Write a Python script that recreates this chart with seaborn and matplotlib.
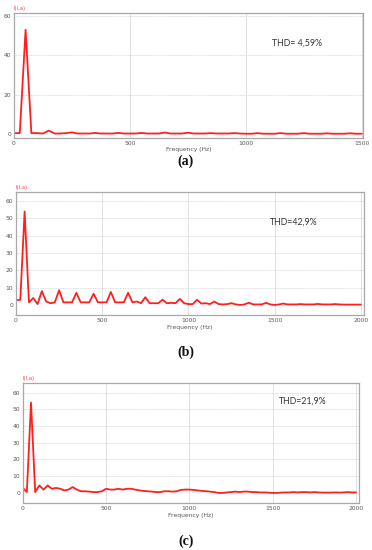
import numpy as np
import pandas as pd
import matplotlib
matplotlib.use("Agg")
import matplotlib.pyplot as plt
import seaborn as sns

# harmonic spectra, sampled every 25 Hz
freq_a = np.arange(0, 1525, 25)
amp_a = [0.5, 0.5, 53, 0.5, 0.5, 0.3, 1.8, 0.3,
         0.3, 0.5, 0.9, 0.3, 0.3, 0.3, 0.6, 0.3,
         0.3, 0.3, 0.6, 0.3, 0.3, 0.3, 0.6, 0.3,
         0.3, 0.3, 0.8, 0.3, 0.3, 0.3, 0.7, 0.3,
         0.3, 0.3, 0.5, 0.3, 0.3, 0.3, 0.5, 0.3,
         0.2, 0.2, 0.5, 0.2, 0.2, 0.2, 0.5, 0.2,
         0.2, 0.2, 0.5, 0.2, 0.2, 0.2, 0.4, 0.2,
         0.2, 0.2, 0.4, 0.2, 0.2]

freq_bc = np.arange(0, 2025, 25)
amp_b = [2.8, 3.0, 54, 1.5, 4.0, 0.5, 8.0, 2.0,
         1.0, 1.5, 8.5, 1.5, 1.5, 1.5, 7.0, 1.5,
         1.5, 1.5, 6.5, 1.5, 1.5, 1.5, 7.5, 1.5,
         1.5, 1.5, 7.0, 1.5, 2.0, 1.0, 4.5, 1.0,
         1.0, 1.0, 3.0, 1.0, 1.2, 1.0, 3.5, 1.0,
         0.5, 0.5, 3.0, 0.8, 1.0, 0.5, 2.0, 0.5,
         0.3, 0.5, 1.0, 0.3, 0.0, 0.3, 1.3, 0.3,
         0.3, 0.3, 1.2, 0.3, 0.0, 0.3, 0.8, 0.3,
         0.3, 0.3, 0.5, 0.3, 0.3, 0.3, 0.6, 0.3,
         0.3, 0.3, 0.5, 0.3, 0.2, 0.2, 0.2, 0.2,
         0.2]
amp_c = [3.0, 0.5, 54, 0.5, 4.5, 2.0, 4.5, 2.5,
         3.0, 2.5, 1.5, 2.0, 3.5, 2.0, 1.0, 1.0,
         0.8, 0.5, 0.5, 1.0, 2.5, 2.0, 2.0, 2.5,
         2.0, 2.5, 2.5, 2.0, 1.5, 1.2, 1.0, 0.8,
         0.5, 0.5, 1.0, 1.0, 0.8, 1.0, 1.8, 2.0,
         2.0, 1.8, 1.5, 1.2, 1.0, 0.8, 0.5, 0.0,
         0.0, 0.3, 0.5, 0.8, 0.5, 0.8, 0.8, 0.5,
         0.5, 0.3, 0.3, 0.2, 0.0, 0.0, 0.2, 0.3,
         0.3, 0.5, 0.3, 0.5, 0.5, 0.3, 0.5, 0.3,
         0.2, 0.2, 0.2, 0.3, 0.2, 0.3, 0.5, 0.3,
         0.3]

thd_labels = ["THD= 4,59%", "THD=42,9%", "THD=21,9%"]
sub_labels = ["a", "b", "c"]

sns.set_theme(style="white")
plt.rcParams['font.family'] = ['DejaVu Sans']

fig = plt.figure(figsize=(3.72, 5.5), dpi=100)

panels = [
    # rect, freq, amp, xlim, ylim, yticks, xticks, thd pos, xlabel y, sub y
    ([0.0376, 0.749, 0.938, 0.228], freq_a, amp_a, (0, 1505), (-2, 61.7),
     [0, 20, 40, 60], [0, 500, 1000, 1500], (0.74, 0.76), 149, 161),
    ([0.043, 0.4273, 0.935, 0.224], freq_bc, amp_b, (0, 2017), (-5.8, 65.4),
     [0, 10, 20, 30, 40, 50, 60], [0, 500, 1000, 1500, 2000], (0.73, 0.757), 327.5, 352),
    ([0.061, 0.0855, 0.904, 0.219], freq_bc, amp_c, (0, 2018), (-6, 66),
     [0, 10, 20, 30, 40, 50, 60], [0, 500, 1000, 1500, 2000], (0.762, 0.842), 515, 541),
]

for i, (rect, fq, amp, xl, yl, yt, xt, thd_pos, xlab_y, sub_y) in enumerate(panels):
    ax = fig.add_axes(rect)
    df = pd.DataFrame({"Frequency (Hz)": fq, "I": amp})
    sns.lineplot(data=df, x="Frequency (Hz)", y="I", ax=ax, color="#ff1f1f", linewidth=1.3)
    ax.set_xlim(*xl)
    ax.set_ylim(*yl)
    ax.set_yticks(yt)
    ax.set_xticks(xt)
    ax.tick_params(labelsize=4.3, colors="#555555", length=0, pad=2)
    for sp in ax.spines.values():
        sp.set_color("#a8a8a8")
        sp.set_linewidth(0.9)
    for x in xt[1:]:
        ax.axvline(x, color="#dcdcdc", linewidth=0.6, zorder=0)
    for y in yt[1:]:
        ax.axhline(y, color="#d0d0d0", linewidth=0.6, linestyle=(0, (1, 1)), zorder=0)
    ax.set_xlabel("")
    ax.set_ylabel("")
    ax.text(0.0, 1.015, "I(I,a)", transform=ax.transAxes, fontsize=3.8,
            color="#ff4040", ha="left", va="bottom")
    ax.text(thd_pos[0], thd_pos[1], thd_labels[i], transform=ax.transAxes,
            fontsize=6.3, family="Lato", color="#333333", ha="left", va="center")
    # axis title and sub-caption placed in figure pixels
    cx = rect[0] + rect[2] / 2
    fig.text(cx, 1 - xlab_y / 550, "Frequency (Hz)", fontsize=4.3, color="#555555",
             ha="center", va="center")
    fig.text(0.5, 1 - sub_y / 550, "(" + sub_labels[i] + ")", fontsize=10,
             fontweight="bold", family="Liberation Serif", ha="center", va="center",
             color="#111111")

fig.savefig("out.png", dpi=100, facecolor="white")
